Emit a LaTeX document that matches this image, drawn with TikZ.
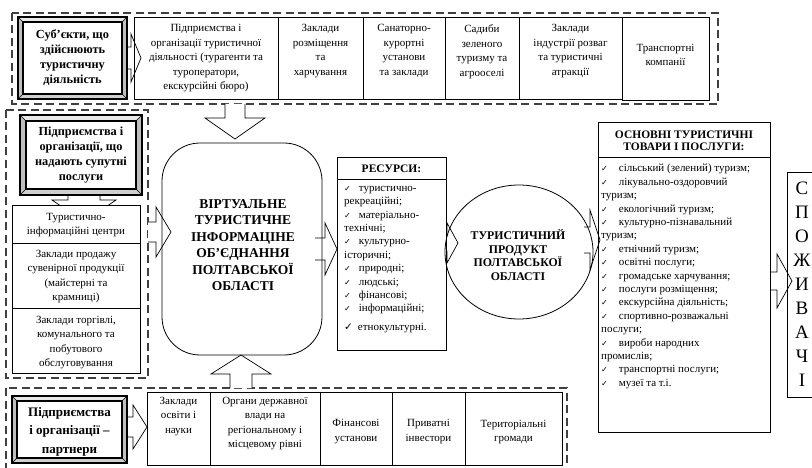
\documentclass[tikz,border=0pt]{standalone}
\usepackage{fontspec}
\setmainfont{Liberation Serif}
\newfontfamily\ckfont{DejaVu Sans}
\usetikzlibrary{shapes.geometric}
\newcommand\ck{{\ckfont\fontsize{8}{8}\selectfont ✓}\hspace{8pt}}
\newcommand\ckb{{\ckfont\fontsize{8}{8}\selectfont ✓}\hspace{11pt}}
\newcommand\bigck{{\ckfont\fontsize{10.5}{10}\selectfont ✓}\hspace{5pt}}
% right block arrow: xs, xbase, xtip, yc, shaft half, head half
\newcommand\arrR[6]{\draw[fill=white,line width=0.7pt] (#1,#4-#5) -- (#2,#4-#5) -- (#2,#4-#6) -- (#3,#4) -- (#2,#4+#6) -- (#2,#4+#5) -- (#1,#4+#5);}
% vertical block arrow: ys, ybase, ytip, xc, shaft half, head half
\newcommand\arrV[6]{\draw[fill=white,line width=0.7pt] (#4-#5,#1) -- (#4-#5,#2) -- (#4-#6,#2) -- (#4,#3) -- (#4+#6,#2) -- (#4+#5,#2) -- (#4+#5,#1);}
% bevel frame: x1 y1 x2 y2 d
\newcommand\bev[5]{%
 \fill[gray!50] (#1,#2) rectangle (#3,#4);
 \fill[gray!18] (#1,#2) -- (#3,#2) -- (#3-#5,#2+#5) -- (#1+#5,#2+#5) -- cycle;
 \fill[gray!38] (#1,#4) -- (#3,#4) -- (#3-#5,#4-#5) -- (#1+#5,#4-#5) -- cycle;
 \draw[line width=0.5pt] (#1,#2) -- (#1+#5,#2+#5) (#3,#2) -- (#3-#5,#2+#5) (#1,#4) -- (#1+#5,#4-#5) (#3,#4) -- (#3-#5,#4-#5);
 \draw[line width=1.4pt] (#1,#2) rectangle (#3,#4);
 \draw[line width=1.1pt,fill=white] (#1+#5,#2+#5) rectangle (#3-#5,#4-#5);}
\begin{document}
\begin{tikzpicture}[x=1pt,y=-1pt,
 dreg/.style={draw=black!75,line width=1.7pt,dash pattern=on 8pt off 4.5pt},
 cell/.style={draw,line width=0.8pt,inner sep=0pt},
 txt/.style={align=center,inner sep=0pt,font=\fontsize{11}{14.5}\selectfont},
 btxt/.style={align=center,inner sep=0pt,font=\bfseries\fontsize{12.3}{15}\selectfont},
 ltxt/.style={align=left,inner sep=0pt,anchor=north west,font=\fontsize{11}{13.4}\selectfont},
]
\useasboundingbox (0,0) rectangle (812,468);
\clip (0,0) rectangle (812,468);

% dashed regions
\draw[dreg] (12,13) rectangle (718,104);
\draw[dreg] (6,110) rectangle (148,378);
\draw[dreg] (6,388) rectangle (567,495);

% block arrows
\arrR{127}{131}{141}{58}{11}{24}
\arrV{195}{200}{222}{84}{16}{32}
\arrR{148}{156}{171}{232}{10}{25}
\arrV{104}{118}{139}{235}{10}{30}
\arrV{388}{374}{355}{241}{11}{30}
\arrR{315}{325}{337}{249}{11}{26}
\arrR{446}{447}{458}{243}{8}{20}
\arrR{584}{590}{600}{240}{13}{30}
\arrR{770}{777}{792}{281}{9}{27}
\arrR{127}{133}{147}{427}{10}{22}

% top region
\bev{18}{17}{127}{99}{5}
\node[btxt] (subj) at (72.5,58) {Суб’єкти, що\\здійснюють\\туристичну\\діяльність};
\node[cell,minimum width=144,minimum height=82] (t1) at (206,58) {};
\node[cell,minimum width=85,minimum height=82] (t2) at (320.5,58) {};
\node[cell,minimum width=82,minimum height=82] (t3) at (404,58) {};
\node[cell,minimum width=74,minimum height=82] (t4) at (482,58) {};
\node[cell,minimum width=103,minimum height=82] (t5) at (570.5,58) {};
\node[cell,minimum width=87,minimum height=83] (t6) at (665.5,58.5) {};
\node[txt,anchor=north] (t1t) at (206,24.5) {Підприємства і\\організації туристичної\\діяльності (турагенти та\\туроператори,\\екскурсійні бюро)};
\node[txt,anchor=north] (t2t) at (320.5,24.5) {Заклади\\розміщення\\та\\харчування};
\node[txt,anchor=north] (t3t) at (404,24.5) {Санаторно-\\курортні\\установи\\та заклади};
\node[txt,anchor=north] (t4t) at (482,24.5) {Садиби\\зеленого\\туризму та\\агрооселі};
\node[txt,anchor=north] (t5t) at (570.5,24.5) {Заклади\\індустрії розваг\\та туристичні\\атракції};
\node[txt,anchor=north] (t6t) at (665.5,44) {Транспортні\\компанії};

% left region
\bev{20}{115}{142}{195}{6}
\node[btxt] (lsub) at (81,155.5) {Підприємства і\\організації, що\\надають супутні\\послуги};
\node[cell,fill=white,minimum width=128,minimum height=38] (c1) at (76,224) {};
\node[cell,fill=white,minimum width=128,minimum height=65] (c2) at (76,275.5) {};
\node[cell,fill=white,minimum width=128,minimum height=65] (c3) at (76,340.5) {};
\node[txt,anchor=north] (c1t) at (76,213) {Туристично-\\інформаційні центри};
\node[txt,anchor=north] (c2t) at (76,250) {Заклади продажу\\сувенірної продукції\\(майстерні та\\крамниці)};
\node[txt,anchor=north] (c3t) at (76,316) {Заклади торгівлі,\\комунального та\\побутового\\обслуговування};

% virtual union
\node[draw,line width=0.8pt,rounded corners=38pt,minimum width=160,minimum height=212] (vt) at (242,249) {};
\node[align=center,inner sep=0pt,font=\bfseries\fontsize{13.5}{16.5}\selectfont] (vtt) at (243,245) {ВІРТУАЛЬНЕ\\ТУРИСТИЧНЕ\\ІНФОРМАЦІНЕ\\ОБ’ЄДНАННЯ\\ПОЛТАВСЬКОЇ\\ОБЛАСТІ};

% resources
\node[cell,minimum width=109,minimum height=193] (res) at (391.5,253.5) {};
\node[cell,minimum width=109,minimum height=22] (resh) at (391.5,168) {};
\node[inner sep=0pt,font=\bfseries\fontsize{11.5}{12}\selectfont] (resht) at (391.5,169) {РЕСУРСИ:};
\node[ltxt] (resl) at (344,186) {\ck туристично-\\рекреаційні;\\\ck матеріально-\\технічні;\\\ck культурно-\\історичні;\\\ck природні;\\\ck людські;\\\ck фінансові;\\\ck інформаційні;\\[5pt]\bigck етнокультурні.};

% product
\node[draw,ellipse,line width=0.8pt,inner sep=0pt,minimum width=148,minimum height=134] (tp) at (519,252) {};
\node[align=center,inner sep=0pt,font=\bfseries\fontsize{11.8}{13.7}\selectfont] (tpt) at (518,255) {ТУРИСТИЧНИЙ\\ПРОДУКТ\\ПОЛТАВСЬКОЇ\\ОБЛАСТІ};

% main goods
\node[cell,minimum width=172,minimum height=310] (os) at (684,277) {};
\node[cell,minimum width=172,minimum height=35] (osh) at (684,139.5) {};
\node[align=center,inner sep=0pt,font=\bfseries\fontsize{11.5}{12.5}\selectfont] (ost) at (684,141) {ОСНОВНІ ТУРИСТИЧНІ\\ТОВАРИ І ПОСЛУГИ:};
\node[ltxt] (osl) at (601,164) {\ckb сільський (зелений) туризм;\\\ckb лікувально-оздоровчий\\туризм;\\\ckb екологічний туризм;\\\ckb культурно-пізнавальний\\туризм;\\\ckb етнічний туризм;\\\ckb освітні послуги;\\\ckb громадське харчування;\\\ckb послуги розміщення;\\\ckb екскурсійна діяльність;\\\ckb спортивно-розважальні\\послуги;\\\ckb вироби народних\\промислів;\\\ckb транспортні послуги;\\\ckb музеї та т.і.};

% consumers
\node[cell,minimum width=43,minimum height=225] (sp) at (808.5,284.5) {};
\node[align=center,inner sep=0pt,font=\fontsize{19}{24}\selectfont] (spt) at (802,284) {С\\П\\О\\Ж\\И\\В\\А\\Ч\\І};

% bottom region
\bev{12}{396}{127}{463}{5}
\node[align=center,inner sep=0pt,font=\bfseries\fontsize{13}{18.5}\selectfont] (part) at (69.5,431.5) {Підприємства\\і організації –\\партнери};
\node[cell,minimum width=63,minimum height=73] (b1) at (178.5,428.5) {};
\node[cell,minimum width=110,minimum height=73] (b2) at (265,428.5) {};
\node[cell,minimum width=72,minimum height=73] (b3) at (356,428.5) {};
\node[cell,minimum width=73,minimum height=73] (b4) at (428.5,428.5) {};
\node[cell,minimum width=97,minimum height=73] (b5) at (513.5,428.5) {};
\node[txt,anchor=north] (b1t) at (178.5,397) {Заклади\\освіти і\\науки};
\node[txt,anchor=north] (b2t) at (265,397) {Органи державної\\влади на\\регіональному і\\місцевому рівні};
\node[txt] (b3t) at (356,431.5) {Фінансові\\установи};
\node[txt] (b4t) at (428.5,431.5) {Приватні\\інвестори};
\node[txt] (b5t) at (513.5,432) {Територіальні\\громади};
\end{tikzpicture}
\end{document}
